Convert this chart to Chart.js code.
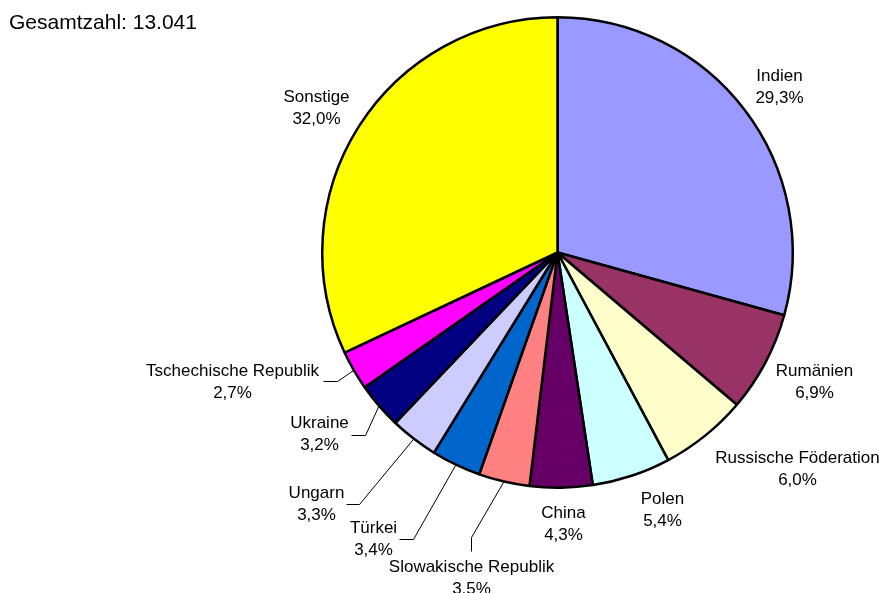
<!DOCTYPE html>
<html>
<head>
<meta charset="utf-8">
<script src="https://cdn.jsdelivr.net/npm/chart.js@4/dist/chart.umd.min.js"></script>
<style>
  body { margin: 0; background: #fff; }
  #wrap { width: 882px; height: 593px; }
</style>
</head>
<body>
<div id="wrap"><canvas id="pieChart" width="882" height="593"></canvas></div>
<script>
const totalText = "Gesamtzahl: 13.041";
const countries = ["Indien", "Rumänien", "Russische Föderation", "Polen", "China",
    "Slowakische Republik", "Türkei", "Ungarn", "Ukraine", "Tschechische Republik", "Sonstige"];
const shares = [29.3, 6.9, 6.0, 5.4, 4.3, 3.5, 3.4, 3.3, 3.2, 2.7, 32.0];
const sliceColors = ["#9999FF", "#993366", "#FFFFCC", "#CCFFFF", "#660066",
    "#FF8080", "#0066CC", "#CCCCFF", "#000080", "#FF00FF", "#FFFF00"];

// label placement, offsets from pie centre in px: [x of text centre, first baseline]
const labelOffsets = [
    [222, -172], [257, 123], [240, 210], [105, 251], [6, 265],
    [-86, 319], [-184, 280], [-241, 245], [-238, 175], [-325, 123], [-241, -151]
];
// leader lines (elbow, end) for the small slices on the left, null = none
const leaders = [
    null, null, null, null, null,
    [[-86, 285], [-86, 299]],
    [[-144, 287], [-158, 287]],
    [[-198, 252], [-211, 252]],
    [[-192, 183], [-206, 183]],
    [[-220, 129], [-234, 129]],
    null
];

const pieLabels = {
    id: "pieLabels",
    afterDraw(chart) {
        const ctx = chart.ctx;
        const arcs = chart.getDatasetMeta(0).data;
        ctx.save();
        ctx.fillStyle = "#000";
        ctx.font = "21px 'Liberation Sans', Arial, sans-serif";
        ctx.textAlign = "left";
        ctx.textBaseline = "alphabetic";
        ctx.fillText(totalText, 9, 29);

        ctx.font = "17px 'Liberation Sans', Arial, sans-serif";
        ctx.textAlign = "center";
        arcs.forEach((arc, i) => {
            const p = arc.getProps(["x", "y", "startAngle", "endAngle", "outerRadius"], true);
            const lx = p.x + labelOffsets[i][0];
            const ly = p.y + labelOffsets[i][1];
            ctx.fillStyle = "#000";
            ctx.fillText(countries[i], lx, ly);
            ctx.fillText(shares[i].toFixed(1).replace(".", ",") + "%", lx, ly + 22);

            if (leaders[i]) {
                const mid = (p.startAngle + p.endAngle) / 2;
                ctx.beginPath();
                ctx.moveTo(p.x + Math.cos(mid) * p.outerRadius, p.y + Math.sin(mid) * p.outerRadius);
                leaders[i].forEach(pt => ctx.lineTo(p.x + pt[0], p.y + pt[1]));
                ctx.strokeStyle = "#000";
                ctx.lineWidth = 1;
                ctx.stroke();
            }
        });
        ctx.restore();
    }
};

document.addEventListener("DOMContentLoaded", () => {
    const ctx = document.getElementById("pieChart").getContext("2d");
    new Chart(ctx, {
        type: "pie",
        data: {
            labels: countries,
            datasets: [{
                data: shares,
                backgroundColor: sliceColors,
                borderColor: "#000",
                borderWidth: 2.5
            }]
        },
        options: {
            responsive: false,
            animation: false,
            layout: { padding: { left: 321, right: 88, top: 15, bottom: 103 } },
            plugins: {
                legend: { display: false },
                tooltip: { enabled: false }
            }
        },
        plugins: [pieLabels]
    });
});
</script>
</body>
</html>
